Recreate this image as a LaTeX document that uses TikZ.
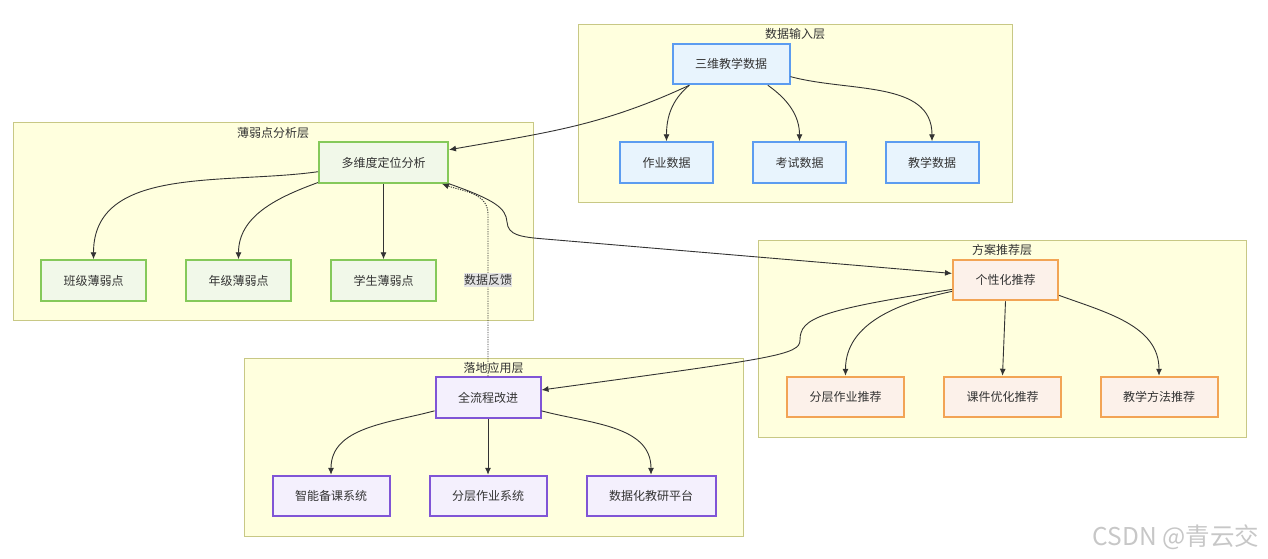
\documentclass[tikz,border=0pt]{standalone}
\usepackage{fontspec}
\newfontfamily\cjk{Noto Sans CJK SC}
\usetikzlibrary{positioning, arrows.meta, calc}

\definecolor{layerfill}{HTML}{FFFFDE}
\definecolor{layerline}{HTML}{C8C885}
\definecolor{textgray}{HTML}{333333}
\definecolor{linegray}{HTML}{333333}
\definecolor{inputfill}{HTML}{E8F4FD}
\definecolor{inputline}{HTML}{5C9CF0}
\definecolor{weakfill}{HTML}{F1F8E9}
\definecolor{weakline}{HTML}{85C95A}
\definecolor{planfill}{HTML}{FCF1EA}
\definecolor{planline}{HTML}{F2A455}
\definecolor{appfill}{HTML}{F4F0FD}
\definecolor{appline}{HTML}{8055D6}
\definecolor{labelfill}{HTML}{E4E4E4}

\begin{document}
\begin{tikzpicture}[
    x=1pt, y=1pt,
    >=LaTeX, % Use default LaTeX arrows
    % Styles
    layer/.style={ % Layer background
        rectangle,
        draw=layerline,
        fill=layerfill,
        line width=1pt
    },
    layertitle/.style={
        font=\cjk\fontsize{12}{14}\selectfont,
        text=textgray,
        inner sep=0pt
    },
    box/.style={ % Generic step box
        rectangle,
        minimum height=40.5pt,
        inner xsep=22.5pt,
        line width=2pt,
        font=\cjk\fontsize{12}{14}\selectfont,
        text=textgray
    },
    inputbox/.style={box, draw=inputline, fill=inputfill},
    weakbox/.style={box, draw=weakline, fill=weakfill},
    planbox/.style={box, draw=planline, fill=planfill},
    appbox/.style={box, draw=appline, fill=appfill},
    arrow/.style={
        -{LaTeX[length=7pt,width=6pt]},
        line width=0.9pt,
        draw=linegray
    },
    feedback/.style={ % Feedback arrow
        arrow,
        dash pattern=on 1.2pt off 1.2pt
    },
    flowlabel/.style={
        fill=labelfill,
        inner xsep=0pt,
        inner ysep=1.5pt,
        font=\cjk\fontsize{12}{14}\selectfont,
        text=textgray
    }
]
    \useasboundingbox (0,0) rectangle (1268,-558);

    % Layers
    \node[layer, minimum width=434pt, minimum height=178pt] (inputlayer) at (795,-113) {};
    \node[layer, minimum width=520pt, minimum height=198pt] (weaklayer) at (273,-221) {};
    \node[layer, minimum width=488pt, minimum height=197pt] (planlayer) at (1002,-338.5) {};
    \node[layer, minimum width=499pt, minimum height=178pt] (applayer) at (493.5,-447) {};

    \node[layertitle] (inputtitle) at ([yshift=-10pt]inputlayer.north) {数据输入层};
    \node[layertitle] (weaktitle) at ([yshift=-11pt]weaklayer.north) {薄弱点分析层};
    \node[layertitle] (plantitle) at ([yshift=-10pt]planlayer.north) {方案推荐层};
    \node[layertitle] (apptitle) at ([yshift=-10pt]applayer.north) {落地应用层};

    % Data input nodes
    \node[inputbox] (sanwei) at (731,-64) {三维教学数据};
    \node[inputbox] (zuoye) at (666.5,-162.5) {作业数据};
    \node[inputbox] (kaoshi) at (799.5,-162.5) {考试数据};
    \node[inputbox] (jiaoxue) at (932,-162.5) {教学数据};

    % Weak point nodes
    \node[weakbox] (duowei) at (383.5,-162.5) {多维度定位分析};
    \node[weakbox] (banji) at (93.5,-280.5) {班级薄弱点};
    \node[weakbox] (nianji) at (238.5,-280.5) {年级薄弱点};
    \node[weakbox] (xuesheng) at (383.5,-280.5) {学生薄弱点};

    % Recommendation nodes
    \node[planbox] (gexing) at (1005.5,-280) {个性化推荐};
    \node[planbox] (fenceng) at (845.5,-397) {分层作业推荐};
    \node[planbox] (kejian) at (1002.5,-397) {课件优化推荐};
    \node[planbox] (fangfa) at (1159,-397) {教学方法推荐};

    % Application nodes
    \node[appbox] (quanliu) at (488,-397.5) {全流程改进};
    \node[appbox] (zhineng) at (331,-496) {智能备课系统};
    \node[appbox] (xitong) at (488,-496) {分层作业系统};
    \node[appbox] (pingtai) at (651,-496) {数据化教研平台};

    % Edges
    \draw[arrow] (sanwei.207) to[out=205,in=10] (duowei.11);
    \draw[arrow] (sanwei.207) to[out=220,in=90] (zuoye.north);
    \draw[arrow] (sanwei.330) to[out=-35,in=90] (kaoshi.north);
    \draw[arrow] (sanwei.348) to[out=-15,in=90] (jiaoxue.north);

    \draw[arrow] (duowei.188) to[out=188,in=90] (banji.north);
    \draw[arrow] (duowei.197) to[out=200,in=90] (nianji.north);
    \draw[arrow] (duowei.south) -- (xuesheng.north);
    \draw[arrow] (duowei.south east) .. controls (495,-200) and (506,-208) .. (507,-222)
        .. controls (508,-235) and (520,-237) .. (545,-239) -- (gexing.173);

    \draw[arrow] (gexing.190) .. controls (820,-310) and (800,-318) .. (800,-340)
        .. controls (800,-355) and (775,-358) .. (quanliu.8);
    \draw[arrow] (gexing.192) to[out=192,in=90] (fenceng.north);
    \draw[arrow] (gexing.south) -- (kejian.north);
    \draw[arrow] (gexing.-16) to[out=-20,in=90] (fangfa.north);

    \draw[arrow] (quanliu.194) to[out=195,in=90] (zhineng.north);
    \draw[arrow] (quanliu.south) -- (xitong.north);
    \draw[arrow] (quanliu.-14) to[out=-15,in=90] (pingtai.north);

    % Feedback loop
    \draw[feedback] (quanliu.north) -- ++(0,162) node[flowlabel, pos=0.593] (fankui) {数据反馈}
        to[out=90,in=-20] (duowei.-20);

    % Watermark
    \node[font=\cjk\fontsize{24.5}{28}\selectfont, text=black!22] (csdn) at (1176,-537) {CSDN @青云交};
\end{tikzpicture}
\end{document}
